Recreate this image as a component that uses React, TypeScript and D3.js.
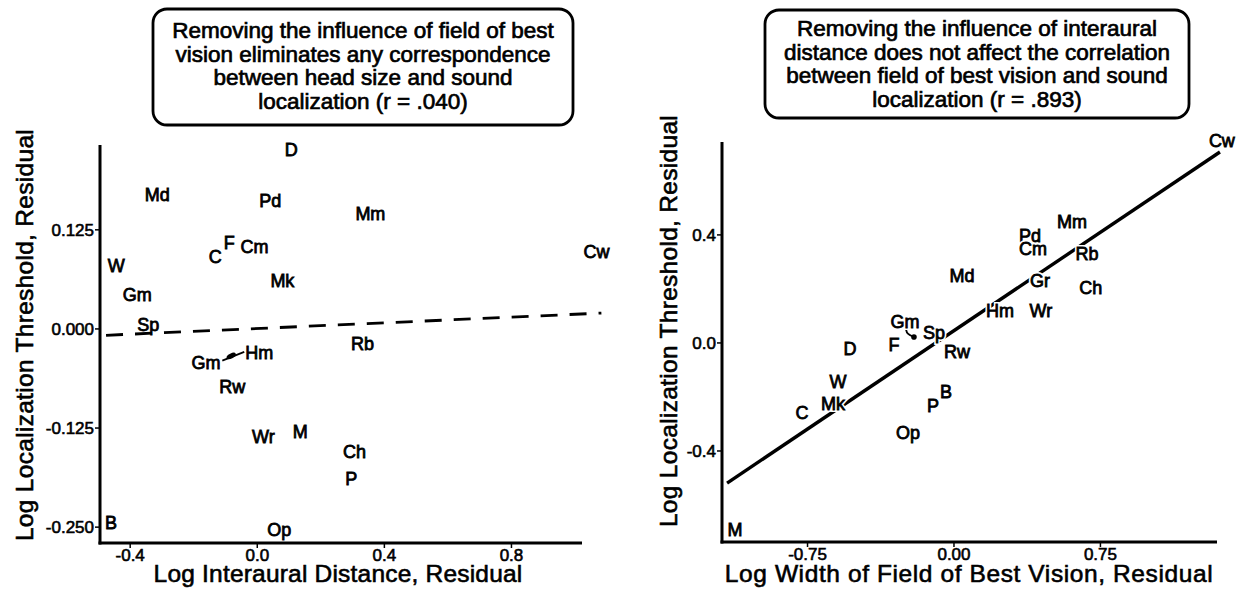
import React from "react";
import * as d3 from "d3";

// ---------- Left panel data ----------
const leftLabels = ["D", "Md", "Pd", "Mm", "C", "F", "Cm", "Cw", "W", "Mk", "Gm", "Sp", "Gm", "Hm", "Rb", "Rw", "Wr", "M", "Ch", "P", "B", "Op"];
const leftX = [0.107, -0.315, 0.041, 0.356, -0.132, -0.088, -0.009, 1.068, -0.444, 0.079, -0.378, -0.343, -0.161, 0.006, 0.331, -0.079, 0.019, 0.135, 0.306, 0.296, -0.46, 0.069];
const leftY = [0.226, 0.169, 0.162, 0.145, 0.091, 0.109, 0.104, 0.098, 0.08, 0.061, 0.044, 0.006, -0.042, -0.03, -0.019, -0.073, -0.136, -0.129, -0.154, -0.189, -0.244, -0.253];
const leftFitX = [-0.476, 1.083];
const leftFitY = [-0.008, 0.02];
const leftLinkX = [-0.11, -0.041];
const leftLinkY = [-0.04, -0.029];
const leftLinkDot = [-0.082, -0.034];
const leftXTicks = [-0.4, 0, 0.4, 0.8];
const leftXTickLabels = ["-0.4", "0.0", "0.4", "0.8"];
const leftYTicks = [0.125, 0, -0.125, -0.25];
const leftYTickLabels = ["0.125", "0.000", "-0.125", "-0.250"];
const leftTitle = [
  "Removing the influence of field of best",
  "vision eliminates any correspondence",
  "between head size and sound",
  "localization (r = .040)",
];
const leftXTitle = "Log Interaural Distance, Residual";
const yTitle = "Log Localization Threshold, Residual";

// ---------- Right panel data ----------
const rightLabels = ["Cw", "Mm", "Pd", "Cm", "Rb", "Md", "Gr", "Ch", "Hm", "Wr", "Gm", "Sp", "Rw", "F", "D", "W", "Mk", "C", "P", "B", "Op", "M"];
const rightX = [1.372, 0.604, 0.389, 0.405, 0.681, 0.041, 0.44, 0.701, 0.236, 0.445, -0.251, -0.102, 0.015, -0.307, -0.533, -0.594, -0.62, -0.778, -0.108, -0.041, -0.236, -1.121];
const rightY = [0.748, 0.448, 0.396, 0.348, 0.33, 0.248, 0.23, 0.207, 0.119, 0.119, 0.081, 0.037, -0.03, -0.004, -0.022, -0.144, -0.226, -0.256, -0.233, -0.181, -0.333, -0.689];
const rightFitX = [-1.162, 1.362];
const rightFitY = [-0.519, 0.707];
const rightHookX = [-0.246, -0.241, -0.205];
const rightHookY = [0.052, 0.033, 0.022];
const rightXTicks = [-0.75, 0, 0.75];
const rightXTickLabels = ["-0.75", "0.00", "0.75"];
const rightYTicks = [0.4, 0, -0.4];
const rightYTickLabels = ["0.4", "0.0", "-0.4"];
const rightTitle = [
  "Removing the influence of interaural",
  "distance does not affect the correlation",
  "between field of best vision and sound",
  "localization (r = .893)",
];
const rightXTitle = "Log Width of Field of Best Vision, Residual";

const FONT = "'Liberation Sans', Arial, Helvetica, sans-serif";

type PanelProps = {
  xDomain: [number, number];
  xRange: [number, number];
  yDomain: [number, number];
  yRange: [number, number];
  labels: string[];
  xs: number[];
  ys: number[];
  xTicks: number[];
  xTickLabels: string[];
  yTicks: number[];
  yTickLabels: string[];
  title: string[];
  box: { x: number; y: number; w: number; h: number; firstBaseline: number };
  xTitle: string;
  xTitleCx: number;
  xTitleSpacing: number;
  yTitleX: number;
  yTitleCy: number;
  halo: boolean;
  children?: (x: d3.ScaleLinear<number, number>, y: d3.ScaleLinear<number, number>) => React.ReactNode;
};

function Panel(p: PanelProps) {
  const x = d3.scaleLinear().domain(p.xDomain).range(p.xRange);
  const y = d3.scaleLinear().domain(p.yDomain).range(p.yRange);
  const x0 = p.xRange[0];
  const yBottom = p.yRange[0];
  const textStyle = { fontFamily: FONT };
  return (
    <g>
      {/* title box */}
      <rect x={p.box.x} y={p.box.y} width={p.box.w} height={p.box.h} rx={14} ry={14} fill="#fff" stroke="#000" strokeWidth={2.8} />
      {p.title.map((t, i) => (
        <text key={i} x={p.box.x + p.box.w / 2} y={p.box.firstBaseline + i * 23.5} textAnchor="middle" fontSize={22.5} style={textStyle} stroke="#000" strokeWidth={0.7} fill="#000">
          {t}
        </text>
      ))}
      {/* fit lines etc */}
      {p.children && p.children(x, y)}
      {/* axes */}
      <line x1={x0} x2={x0} y1={p.yRange[1]} y2={yBottom + 1.5} stroke="#000" strokeWidth={3} />
      <line x1={x0 - 1.5} x2={p.xRange[1]} y1={yBottom} y2={yBottom} stroke="#000" strokeWidth={3} />
      {p.yTicks.map((t, i) => (
        <g key={"yt" + i}>
          <line x1={x0 - 5} x2={x0} y1={y(t)} y2={y(t)} stroke="#000" strokeWidth={1.5} />
          <text x={x0 - 6} y={y(t)} dy="0.36em" textAnchor="end" fontSize={17} style={textStyle} stroke="#000" strokeWidth={0.6}>
            {p.yTickLabels[i]}
          </text>
        </g>
      ))}
      {p.xTicks.map((t, i) => (
        <g key={"xt" + i}>
          <line x1={x(t)} x2={x(t)} y1={yBottom} y2={yBottom + 5} stroke="#000" strokeWidth={1.5} />
          <text x={x(t)} y={yBottom + 18} textAnchor="middle" fontSize={17} style={textStyle} stroke="#000" strokeWidth={0.6}>
            {p.xTickLabels[i]}
          </text>
        </g>
      ))}
      <text x={p.xTitleCx} y={582} textAnchor="middle" fontSize={24.5} letterSpacing={p.xTitleSpacing} style={textStyle} stroke="#000" strokeWidth={0.6}>
        {p.xTitle}
      </text>
      <text
        transform={`translate(${p.yTitleX},${p.yTitleCy}) rotate(-90)`}
        textAnchor="middle"
        dy="0.36em"
        fontSize={24.5}
        letterSpacing={0.3}
        style={textStyle}
        stroke="#000"
        strokeWidth={0.6}
      >
        {yTitle}
      </text>
      {/* point labels */}
      {p.labels.map((l, i) => (
        <g key={"pt" + i}>
          {p.halo && (
            <text x={x(p.xs[i])} y={y(p.ys[i])} dy="0.36em" textAnchor="middle" fontSize={18} style={textStyle} stroke="#fff" strokeWidth={4} fill="#fff">
              {l}
            </text>
          )}
          <text x={x(p.xs[i])} y={y(p.ys[i])} dy="0.36em" textAnchor="middle" fontSize={18} style={textStyle} stroke="#000" strokeWidth={0.8} fill="#000">
            {l}
          </text>
        </g>
      ))}
    </g>
  );
}

export default function App() {
  const line = d3.line<[number, number]>();
  return (
    <svg width={1250} height={596} style={{ position: "absolute", left: 0, top: 0, background: "#fff" }}>
      <rect x={0} y={0} width={1250} height={596} fill="#fff" />
      <Panel
        xDomain={[-0.495, 1.022]}
        xRange={[100, 582]}
        yDomain={[-0.27, 0.232]}
        yRange={[543, 145]}
        labels={leftLabels}
        xs={leftX}
        ys={leftY}
        xTicks={leftXTicks}
        xTickLabels={leftXTickLabels}
        yTicks={leftYTicks}
        yTickLabels={leftYTickLabels}
        title={leftTitle}
        box={{ x: 153, y: 9, w: 420, h: 116, firstBaseline: 38 }}
        xTitle={leftXTitle}
        xTitleCx={338}
        xTitleSpacing={0.2}
        yTitleX={24}
        yTitleCy={335}
        halo={false}
      >
        {(x, y) => {
          const fit = line(leftFitX.map((v, i) => [x(v), y(leftFitY[i])] as [number, number]));
          const link = line(leftLinkX.map((v, i) => [x(v), y(leftLinkY[i])] as [number, number]));
          return (
            <g>
              <path d={fit || ""} fill="none" stroke="#000" strokeWidth={2.8} strokeDasharray="17 12" />
              <path d={link || ""} fill="none" stroke="#000" strokeWidth={1.8} />
              <ellipse cx={x(leftLinkDot[0])} cy={y(leftLinkDot[1])} rx={5} ry={2.5} transform={`rotate(-25 ${x(leftLinkDot[0])} ${y(leftLinkDot[1])})`} fill="#000" />
            </g>
          );
        }}
      </Panel>
      <Panel
        xDomain={[-1.188, 1.347]}
        xRange={[722, 1217]}
        yDomain={[-0.737, 0.744]}
        yRange={[542, 142]}
        labels={rightLabels}
        xs={rightX}
        ys={rightY}
        xTicks={rightXTicks}
        xTickLabels={rightXTickLabels}
        yTicks={rightYTicks}
        yTickLabels={rightYTickLabels}
        title={rightTitle}
        box={{ x: 765, y: 10, w: 424, h: 108, firstBaseline: 36 }}
        xTitle={rightXTitle}
        xTitleCx={969}
        xTitleSpacing={0.6}
        yTitleX={668}
        yTitleCy={321}
        halo={true}
      >
        {(x, y) => {
          const fit = line(rightFitX.map((v, i) => [x(v), y(rightFitY[i])] as [number, number]));
          const hook = d3.line<[number, number]>().curve(d3.curveBasis)(rightHookX.map((v, i) => [x(v), y(rightHookY[i])] as [number, number]));
          const n = rightHookX.length - 1;
          return (
            <g>
              <path d={fit || ""} fill="none" stroke="#000" strokeWidth={3.4} />
              <path d={hook || ""} fill="none" stroke="#000" strokeWidth={1.8} />
              <circle cx={x(rightHookX[n])} cy={y(rightHookY[n])} r={2.8} fill="#000" />
            </g>
          );
        }}
      </Panel>
    </svg>
  );
}
